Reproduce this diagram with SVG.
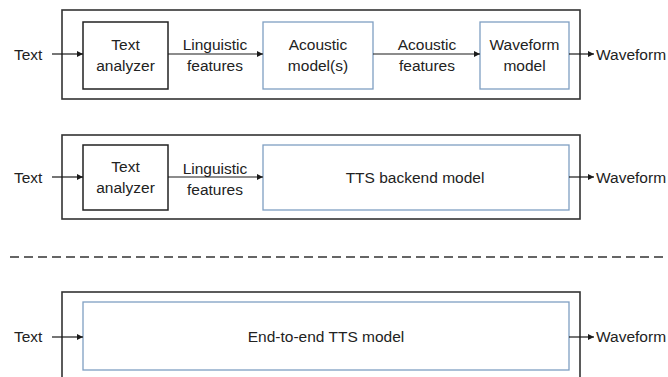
<svg xmlns="http://www.w3.org/2000/svg" width="668" height="377" viewBox="0 0 668 377">
  <defs>
    <marker id="ah" viewBox="0 0 10 10" refX="10" refY="5" markerWidth="6" markerHeight="6" orient="auto" markerUnits="userSpaceOnUse">
      <path d="M0,0 L10,5 L0,10 z" fill="#1a1a1a"/>
    </marker>
    <style>
      text { font-family: "Liberation Sans", Arial, sans-serif; font-size: 15.5px; fill: #222; }
      .mid { text-anchor: middle; }
      .outer { fill: none; stroke: #333; stroke-width: 1.6; }
      .blk { fill: #fff; stroke: #222; stroke-width: 1.5; }
      .blue { fill: #fff; stroke: #7f9fc2; stroke-width: 1.3; }
      .edge { stroke: #1a1a1a; stroke-width: 1.2; fill: none; marker-end: url(#ah); }
      .dash { stroke: #333; stroke-width: 1.3; stroke-dasharray: 9 5; }
    </style>
  </defs>
  <rect width="668" height="377" fill="#fff"/>

  <!-- pipeline 1: text analyzer, acoustic model, waveform model -->
  <rect class="outer" x="62" y="10" width="518" height="89"/>
  <g id="p1-analyzer">
    <rect class="blk" x="83" y="22" width="85" height="67"/>
    <text class="mid" x="125.5" y="50">Text</text>
    <text class="mid" x="125.5" y="71">analyzer</text>
  </g>
  <g id="p1-acoustic">
    <rect class="blue" x="263" y="22" width="110" height="67"/>
    <text class="mid" x="318" y="50">Acoustic</text>
    <text class="mid" x="318" y="71">model(s)</text>
  </g>
  <g id="p1-waveform">
    <rect class="blue" x="480" y="22" width="89" height="67"/>
    <text class="mid" x="524.5" y="50">Waveform</text>
    <text class="mid" x="524.5" y="71">model</text>
  </g>
  <text x="14" y="60">Text</text>
  <text class="mid" x="215" y="50">Linguistic</text>
  <text class="mid" x="215" y="71">features</text>
  <text class="mid" x="427" y="50">Acoustic</text>
  <text class="mid" x="427" y="71">features</text>
  <text x="596" y="60">Waveform</text>

  <!-- pipeline 2: text analyzer, TTS backend -->
  <rect class="outer" x="62" y="135" width="518" height="84"/>
  <g id="p2-analyzer">
    <rect class="blk" x="83" y="145" width="85" height="65"/>
    <text class="mid" x="125.5" y="172">Text</text>
    <text class="mid" x="125.5" y="193">analyzer</text>
  </g>
  <g id="p2-backend">
    <rect class="blue" x="263" y="145" width="306" height="65"/>
    <text class="mid" x="415" y="183">TTS backend model</text>
  </g>
  <text x="14" y="183">Text</text>
  <text class="mid" x="215" y="174">Linguistic</text>
  <text class="mid" x="215" y="195">features</text>
  <text x="596" y="183">Waveform</text>

  <!-- separator -->
  <line class="dash" x1="10" y1="257" x2="668" y2="257"/>

  <!-- pipeline 3: end-to-end -->
  <rect class="outer" x="62" y="292" width="518" height="100"/>
  <g id="p3-e2e">
    <rect class="blue" x="83" y="302" width="486" height="68"/>
    <text class="mid" x="326" y="342">End-to-end TTS model</text>
  </g>
  <text x="14" y="342">Text</text>
  <text x="596" y="342">Waveform</text>

  <g id="connectors">
    <line class="edge" x1="52" y1="54" x2="83" y2="54"/>
    <line class="edge" x1="168" y1="54" x2="263" y2="54"/>
    <line class="edge" x1="373" y1="54" x2="480" y2="54"/>
    <line class="edge" x1="569" y1="54" x2="594" y2="54"/>

    <line class="edge" x1="52" y1="177" x2="83" y2="177"/>
    <line class="edge" x1="168" y1="177" x2="263" y2="177"/>
    <line class="edge" x1="569" y1="177" x2="594" y2="177"/>

    <line class="edge" x1="52" y1="337" x2="83" y2="337"/>
    <line class="edge" x1="569" y1="337" x2="594" y2="337"/>
  </g>
</svg>
